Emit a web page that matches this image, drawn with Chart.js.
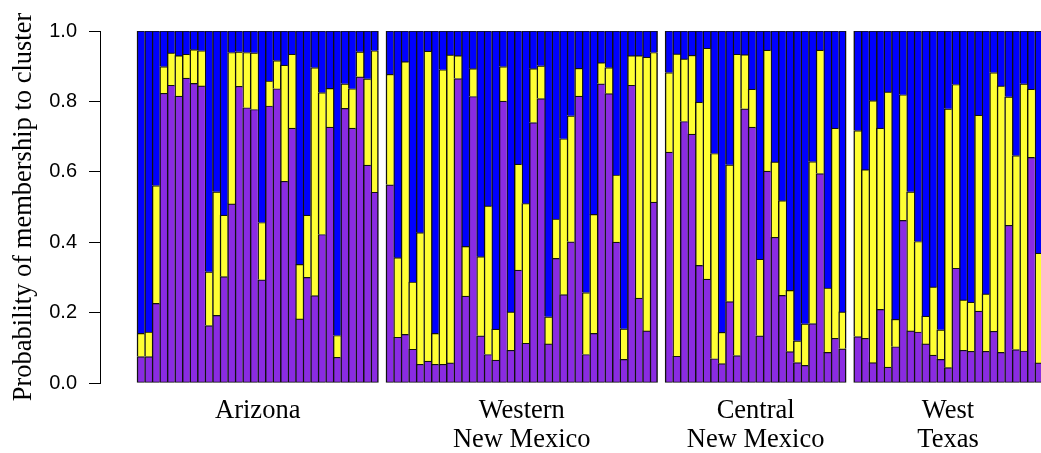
<!DOCTYPE html>
<html>
<head>
<meta charset="utf-8">
<script src="https://cdn.jsdelivr.net/npm/chart.js@4.4.1/dist/chart.umd.min.js"></script>
<style>
  html, body { margin: 0; padding: 0; background: #ffffff; overflow: hidden; }
  canvas { display: block; }
</style>
</head>
<body>
<canvas id="c" width="1043" height="453"></canvas>
<script>
// ---- Data (membership probabilities) ----
const regionLabels = [['Arizona'], ['Western', 'New Mexico'], ['Central', 'New Mexico'], ['West', 'Texas']];

const arizonaPurple = [0.075,0.075,0.226,0.823,0.846,0.815,0.866,0.851,0.844,0.163,0.192,0.302,0.509,0.843,0.782,0.777,0.293,0.787,0.836,0.573,0.724,0.182,0.300,0.248,0.422,0.727,0.073,0.780,0.724,0.870,0.619,0.542];
const arizonaYellow = [0.066,0.070,0.335,0.076,0.092,0.115,0.068,0.096,0.100,0.153,0.351,0.175,0.430,0.098,0.157,0.161,0.163,0.071,0.080,0.330,0.210,0.155,0.177,0.648,0.403,0.110,0.062,0.070,0.112,0.071,0.245,0.402];

const westernNMPurple = [0.563,0.130,0.138,0.096,0.053,0.062,0.053,0.053,0.057,0.865,0.247,0.814,0.134,0.081,0.065,0.801,0.093,0.321,0.113,0.740,0.808,0.111,0.354,0.251,0.401,0.815,0.081,0.141,0.850,0.822,0.400,0.067,0.846,0.241,0.148,0.514];
const westernNMYellow = [0.314,0.226,0.775,0.191,0.374,0.881,0.088,0.837,0.875,0.065,0.141,0.079,0.225,0.422,0.088,0.098,0.109,0.301,0.397,0.153,0.093,0.077,0.112,0.443,0.358,0.079,0.176,0.338,0.060,0.074,0.191,0.087,0.084,0.689,0.778,0.425];

const centralNMPurple = [0.656,0.076,0.743,0.707,0.334,0.295,0.069,0.055,0.231,0.078,0.779,0.727,0.134,0.602,0.414,0.249,0.089,0.058,0.050,0.169,0.595,0.087,0.127,0.097];
const centralNMYellow = [0.226,0.859,0.178,0.224,0.464,0.656,0.583,0.089,0.389,0.856,0.154,0.108,0.218,0.344,0.214,0.269,0.174,0.062,0.118,0.460,0.351,0.183,0.597,0.105];

const westTexasPurple = [0.132,0.127,0.058,0.209,0.045,0.103,0.462,0.148,0.145,0.111,0.079,0.067,0.044,0.326,0.093,0.090,0.204,0.090,0.147,0.087,0.448,0.095,0.091,0.641,0.057];
const westTexasYellow = [0.585,0.479,0.744,0.515,0.782,0.078,0.357,0.395,0.257,0.079,0.194,0.084,0.735,0.522,0.143,0.140,0.557,0.163,0.735,0.757,0.365,0.551,0.759,0.194,0.312];

const yTicks = [0, 0.2, 0.4, 0.6, 0.8, 1.0];

// ---- Build datasets (one empty slot between regions) ----
const regions = [
  [arizonaPurple, arizonaYellow],
  [westernNMPurple, westernNMYellow],
  [centralNMPurple, centralNMYellow],
  [westTexasPurple, westTexasYellow]
];
const purplePts = [], yellowPts = [], bluePts = [], centers = [];
const occupied = new Set();
let slot = 0;
regions.forEach(([p, y], gi) => {
  const start = slot;
  p.forEach((pv, i) => {
    const yv = y[i];
    purplePts.push({x: slot, y: pv});
    yellowPts.push({x: slot, y: yv});
    bluePts.push({x: slot, y: Math.max(0, 1 - pv - yv)});
    occupied.add(slot);
    slot++;
  });
  centers.push((start + slot - 1) / 2);
  slot++; // gap
});

const borderFn = (ctx) => {
  const x = ctx.raw ? ctx.raw.x : 0;
  return {
    top: 1.2,
    left: 1.5,
    right: occupied.has(x + 1) ? 0 : 1.5,
    bottom: ctx.datasetIndex === 0 ? 1.2 : 0
  };
};

const serif = "'Liberation Serif', 'Times New Roman', Times, serif";
const sans = "'Liberation Sans', Arial, Helvetica, sans-serif";

new Chart(document.getElementById('c'), {
  type: 'bar',
  data: {
    datasets: [
      {label: 'Cluster 1', data: purplePts, backgroundColor: '#8A2BE2'},
      {label: 'Cluster 2', data: yellowPts, backgroundColor: '#FFFF33'},
      {label: 'Cluster 3', data: bluePts, backgroundColor: '#0000FF'}
    ].map(d => Object.assign(d, {
      borderColor: '#111111',
      borderWidth: borderFn,
      borderSkipped: false,
      barPercentage: 1.0,
      categoryPercentage: 1.0
    }))
  },
  options: {
    responsive: false,
    devicePixelRatio: 1,
    animation: false,
    layout: {padding: {top: 31, right: 0, bottom: 0, left: 0}},
    plugins: {legend: {display: false}, tooltip: {enabled: false}},
    scales: {
      x: {
        type: 'linear',
        stacked: true,
        offset: false,
        min: -5.405,
        max: 119.59,
        grid: {display: false, drawTicks: false, offset: false},
        border: {display: false},
        afterBuildTicks: (scale) => { scale.ticks = centers.map(v => ({value: v})); },
        afterFit: (scale) => { scale.height = 70; },
        ticks: {
          autoSkip: false,
          maxRotation: 0,
          minRotation: 0,
          padding: 13,
          color: '#000',
          font: {family: serif, size: 26.5, lineHeight: 1.1},
          callback: (value, index) => regionLabels[index]
        }
      },
      y: {
        stacked: true,
        min: 0,
        max: 1,
        afterBuildTicks: (scale) => { scale.ticks = yTicks.map(v => ({value: v})); },
        afterFit: (scale) => { scale.width = 100; },
        grid: {display: true, drawOnChartArea: false, drawTicks: true, tickLength: 11, color: '#000', lineWidth: 1},
        border: {display: true, color: '#000', width: 1},
        ticks: {
          padding: 12,
          color: '#000',
          font: {family: sans, size: 20},
          callback: (v) => Number(v).toFixed(1)
        },
        title: {
          display: true,
          text: 'Probability of membership to cluster',
          color: '#000',
          font: {family: serif, size: 26.5, lineHeight: 1},
          padding: {top: 10.5, bottom: 0}
        }
      }
    }
  }
});
</script>
</body>
</html>
